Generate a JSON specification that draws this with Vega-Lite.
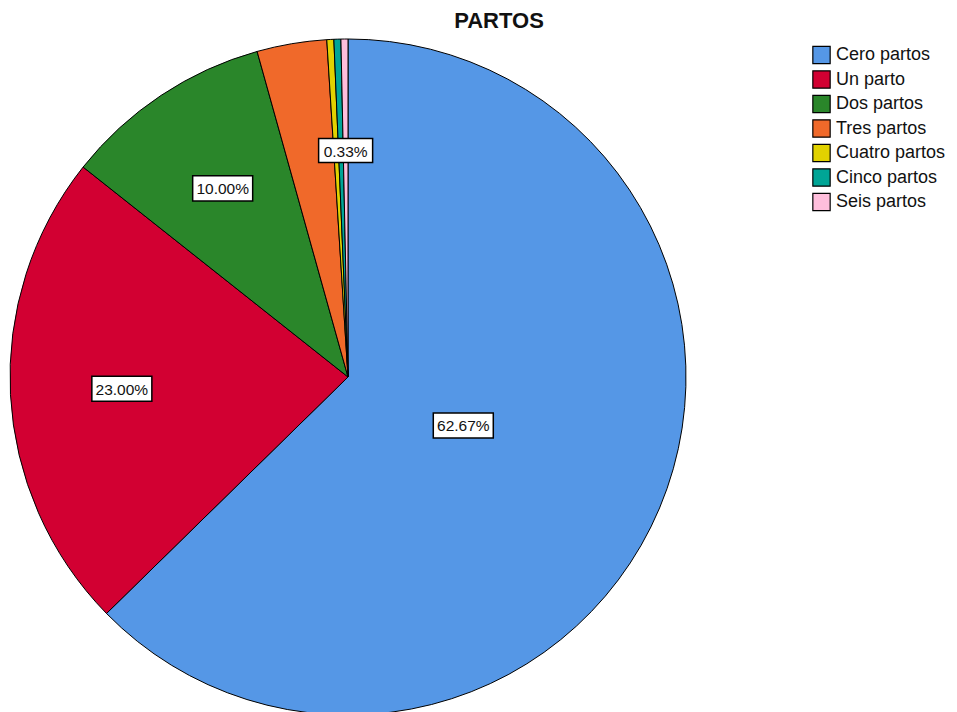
{
  "$schema": "https://vega.github.io/schema/vega-lite/v6.json",
  "autosize": "none",
  "width": 676,
  "height": 676,
  "padding": {"left": 10, "top": 39, "right": 271, "bottom": 0},
  "background": "white",
  "title": {
    "text": "PARTOS",
    "font": "Liberation Sans",
    "fontSize": 22,
    "fontWeight": "bold",
    "color": "#111",
    "anchor": "middle",
    "dx": 151,
    "offset": 4
  },
  "config": {"view": {"stroke": null}},
  "data": {
    "values": [
      {"idx": 1, "cat": "Cero partos", "n": 188, "label": "62.67%"},
      {"idx": 2, "cat": "Un parto", "n": 69, "label": "23.00%"},
      {"idx": 3, "cat": "Dos partos", "n": 30, "label": "10.00%"},
      {"idx": 4, "cat": "Tres partos", "n": 10, "label": ""},
      {"idx": 5, "cat": "Cuatro partos", "n": 1, "label": ""},
      {"idx": 6, "cat": "Cinco partos", "n": 1, "label": ""},
      {"idx": 7, "cat": "Seis partos", "n": 1, "label": "0.33%"}
    ]
  },
  "layer": [
    {
      "mark": {"type": "arc", "radius": 338, "stroke": "#000", "strokeWidth": 1},
      "encoding": {
        "theta": {"field": "n", "type": "quantitative", "stack": true},
        "order": {"field": "idx", "type": "quantitative"},
        "color": {
          "field": "cat",
          "type": "nominal",
          "sort": ["Cero partos", "Un parto", "Dos partos", "Tres partos", "Cuatro partos", "Cinco partos", "Seis partos"],
          "scale": {
            "domain": ["Cero partos", "Un parto", "Dos partos", "Tres partos", "Cuatro partos", "Cinco partos", "Seis partos"],
            "range": ["#5597E6", "#D20032", "#2A862A", "#F0692A", "#E1D200", "#00A596", "#FFBEDC"]
          },
          "legend": {
            "title": null,
            "orient": "none",
            "legendX": 802,
            "legendY": 6.5,
            "symbolType": "square",
            "symbolSize": 300,
            "symbolStrokeColor": "#000",
            "symbolStrokeWidth": 1.2,
            "symbolOpacity": 1,
            "labelFont": "Liberation Sans",
            "labelFontSize": 18,
            "labelColor": "#111",
            "labelOffset": 5,
            "rowPadding": 1.5,
            "labelLimit": 200
          }
        }
      }
    },
    {
      "transform": [
        {"window": [{"op": "sum", "field": "n", "as": "cum"}], "sort": [{"field": "idx"}], "frame": [null, 0]},
        {"joinaggregate": [{"op": "sum", "field": "n", "as": "total"}]},
        {"calculate": "2*PI*(datum.cum - datum.n/2)/datum.total", "as": "mid"},
        {"calculate": "datum.idx == 1 ? 0.37 : 0.67", "as": "r"},
        {"calculate": "datum.r*sin(datum.mid)", "as": "lx"},
        {"calculate": "datum.r*cos(datum.mid)", "as": "ly"},
        {"filter": "datum.label != ''"}
      ],
      "layer": [
        {
          "mark": {"type": "point", "filled": true, "fill": "white", "stroke": "#000", "strokeWidth": 1.5, "opacity": 1},
          "encoding": {
            "x": {"field": "lx", "type": "quantitative", "scale": {"domain": [-1, 1]}, "axis": null},
            "y": {"field": "ly", "type": "quantitative", "scale": {"domain": [-1, 1]}, "axis": null},
            "shape": {
              "condition": {"test": "length(datum.label) < 6", "value": "M-1,-0.444L1,-0.444L1,0.444L-1,0.444Z"},
              "value": "M-1,-0.417L1,-0.417L1,0.417L-1,0.417Z"
            },
            "size": {
              "condition": {"test": "length(datum.label) < 6", "value": 2916},
              "value": 3600
            }
          }
        },
        {
          "mark": {"type": "text", "font": "Liberation Sans", "fontSize": 15.5, "color": "#111", "align": "center", "baseline": "middle", "dy": 1},
          "encoding": {
            "x": {"field": "lx", "type": "quantitative", "scale": {"domain": [-1, 1]}, "axis": null},
            "y": {"field": "ly", "type": "quantitative", "scale": {"domain": [-1, 1]}, "axis": null},
            "text": {"field": "label"}
          }
        }
      ]
    }
  ]
}
